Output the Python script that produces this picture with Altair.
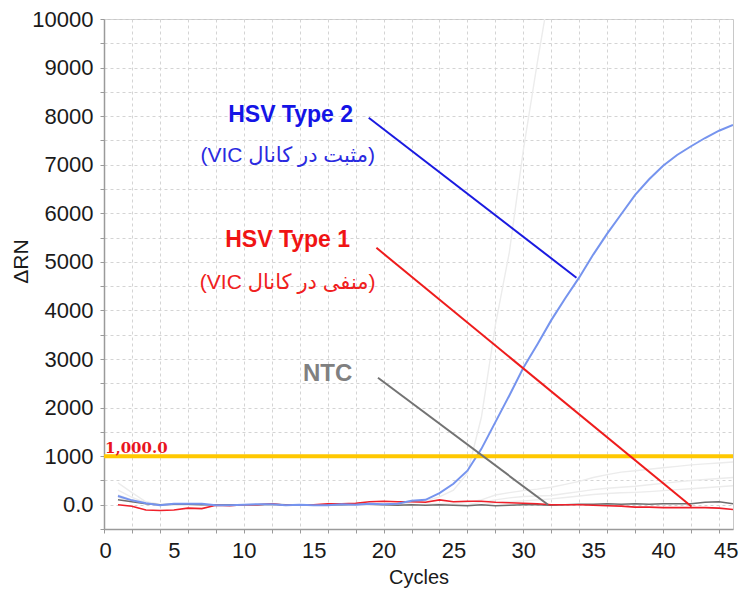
import altair as alt
import pandas as pd

# ---------------- data ----------------
cycles = list(range(1, 46))

hsv2_blue = [180, 90, 30, -10, 20, 20, 20, -10, -10, 0,
             10, 10, -10, 0, -10, -10, 10, 0, 20, 10,
             20, 80, 100, 240, 430, 700, 1150, 1700, 2250, 2820,
             3300, 3800, 4250, 4680, 5150, 5580, 5980, 6380, 6700, 6980,
             7200, 7380, 7550, 7700, 7820]

hsv1_red = [0, -30, -110, -120, -110, -70, -80, -10, -20, 0,
            0, 20, -10, 0, 0, 20, 20, 30, 60, 70,
            60, 60, 50, 100, 60, 70, 70, 50, 40, 30,
            20, 0, 0, 0, -10, -20, -30, -50, -50, -60,
            -60, -60, -60, -70, -100]

ntc_gray = [100, 60, 20, 0, 10, 10, 0, 0, 0, 0,
            0, 10, 0, 0, -10, 0, 0, 10, 10, 0,
            -10, 0, -10, 0, -10, -20, 0, -20, -10, 0,
            0, -10, 0, 10, 10, 20, 10, 20, 10, 20,
            20, 20, 50, 60, 20]

bg_steep = [450, 250, 60, 10, 0, 0, 0, 0, 0, 0,
            0, 0, 0, 0, 0, 0, 0, 0, 0, 10,
            20, 40, 80, 160, 300, 650, 1800, 3700, 5200, 7300,
            9100, 10800]
bg_a = [300, 150, 40, 0, 0, 0, 0, 0, 0, 0,
        0, 0, 0, 0, 0, 0, 0, 0, 0, 0,
        0, 0, 10, 20, 30, 50, 100, 200, 250, 290,
        320, 360, 420, 480, 560, 620, 670, 700, 730, 760,
        790, 820, 840, 860, 880]
bg_b = [200, 100, 30] + [0] * 23 + [50, 100, 140, 170, 180, 190, 230, 270, 310, 340,
                                    360, 380, 410, 440, 470, 500, 520, 540, 560]
bg_c = [150, 80, 20] + [0] * 24 + [40, 60, 80, 100, 120, 150, 180, 210, 230, 245,
                                   255, 270, 290, 310, 330, 350, 370, 390]

x_ticks = sorted(set(range(0, 46, 2)) | set(range(0, 46, 5)))
y_ticks = list(range(-500, 10001, 500))
threshold = [1000]
threshold_label = ["1,000.0"]

note_text = ["HSV Type 2", "HSV Type 1", "NTC"]
note_x = [13.35, 13.14, 16.0]
note_y = [8027, 5451, 2681]
note_size = [23, 23, 24]
note_color = ["#1414e6", "#f01414", "#808080"]

sub_text = ["(VIC مثبت در کانال)", "(VIC منفی در کانال)"]
sub_x = [13.14, 13.14]
sub_y = [7188, 4574]
sub_color = ["#2a2ae0", "#f02020"]

lead_x = [18.94, 19.49, 19.60]
lead_y = [7966, 5289, 2614]
lead_x2 = [33.80, 42.03, 31.77]
lead_y2 = [4674, -37, -2]
lead_color = ["#1a1ae0", "#ee1c1c", "#737373"]

# ---------------- tables ----------------
bg_rows = []
for name, vals in [("s", bg_steep), ("a", bg_a), ("b", bg_b), ("c", bg_c)]:
    for c, v in zip(cycles, vals):
        bg_rows.append({"cycle": c, "value": v, "series": name})
bg_df = pd.DataFrame(bg_rows)

blue_df = pd.DataFrame({"cycle": cycles, "value": hsv2_blue})
red_df = pd.DataFrame({"cycle": cycles, "value": hsv1_red})
ntc_df = pd.DataFrame({"cycle": cycles, "value": ntc_gray})
thr_df = pd.DataFrame({"cycle": [0], "value": threshold, "label": threshold_label})
note_df = pd.DataFrame({"cycle": note_x, "value": note_y, "t": note_text,
                        "c": note_color, "fs": note_size})
sub_df = pd.DataFrame({"cycle": sub_x, "value": sub_y, "t": sub_text, "c": sub_color})
lead_df = pd.DataFrame({"cycle": lead_x, "value": lead_y, "x2": lead_x2,
                        "y2": lead_y2, "c": lead_color})

# ---------------- scales / axes ----------------
xs = alt.Scale(domain=[0, 45], nice=False, zero=False)
ys = alt.Scale(domain=[-500, 10000], nice=False, zero=False)

even_only = {"condition": {"test": "datum.value % 2 == 0", "value": 1}, "value": 0}

x_axis = alt.Axis(
    values=x_ticks, title="Cycles",
    labelExpr="datum.value % 5 == 0 ? datum.label : ''",
    tickOpacity=even_only, gridOpacity=even_only,
    grid=True, gridDash=[3, 3], gridColor="#d4d4d4", gridWidth=1,
    domainColor="#9a9a9a", domainWidth=1.5, tickColor="#9a9a9a", tickSize=4,
    labelFont="Liberation Sans", labelFontSize=22, labelColor="#1a1a1a",
    labelPadding=7, labelFlush=True, labelFlushOffset=5, labelOverlap=False,
    titleFont="Liberation Sans", titleFontSize=20, titleFontWeight="normal",
    titleColor="#1a1a1a", titlePadding=6,
)
y_axis = alt.Axis(
    values=y_ticks, format="d", title="ΔRN",
    labelExpr="datum.value == 0 ? '0.0' : (datum.value > 0 && datum.value % 1000 == 0 ? datum.label : '')",
    grid=True, gridDash=[3, 3], gridColor="#d4d4d4", gridWidth=1,
    domainColor="#9a9a9a", domainWidth=1.5, tickColor="#9a9a9a", tickSize=4,
    labelFont="Liberation Sans", labelFontSize=22, labelColor="#1a1a1a",
    labelPadding=7, labelFlush=False, labelOverlap=False,
    titleFont="Liberation Sans", titleFontSize=21, titleFontWeight="normal",
    titleColor="#1a1a1a", titleX=-77, titleY=242, titleBaseline="alphabetic",
)

X = alt.X("cycle:Q", scale=xs, axis=x_axis)
Y = alt.Y("value:Q", scale=ys, axis=y_axis)

# ---------------- layers ----------------
bg = alt.Chart(bg_df).mark_line(color="#ececec", strokeWidth=1.4, clip=True).encode(
    x=X, y=Y, detail="series:N",
)

def curve(df, color, width):
    return alt.Chart(df).mark_line(color=color, strokeWidth=width, clip=True).encode(x=X, y=Y)

ntc_line = curve(ntc_df, "#6e6e6e", 1.5)
red_line = curve(red_df, "#f0202a", 1.6)
blue_line = curve(blue_df, "#7694ee", 2)

thr_rule = alt.Chart(thr_df).mark_rule(color="#ffc800", strokeWidth=4).encode(y=Y)
thr_text = alt.Chart(thr_df).mark_text(
    align="left", baseline="alphabetic", dx=1, dy=-3,
    font="DejaVu Serif", fontWeight="bold", fontSize=15, color="#e8141e",
).encode(x=X, y=Y, text="label:N")

leaders = alt.Chart(lead_df).mark_rule(strokeWidth=2).encode(
    x=X, y=Y, x2="x2:Q", y2="y2:Q",
    color=alt.Color("c:N", scale=None),
)

notes = alt.Chart(note_df).mark_text(
    align="center", baseline="middle", font="Liberation Sans", fontWeight="bold",
).encode(
    x=X, y=Y, text="t:N",
    color=alt.Color("c:N", scale=None),
    size=alt.Size("fs:Q", scale=None),
)

subs = alt.Chart(sub_df).mark_text(
    align="center", baseline="middle", font="Liberation Sans, DejaVu Sans",
    fontSize=21,
).encode(
    x=X, y=Y, text="t:N",
    color=alt.Color("c:N", scale=None),
)

chart = alt.layer(
    bg, ntc_line, red_line, blue_line, thr_rule, thr_text, leaders, notes, subs
).properties(
    width=629, height=510,
    autosize=alt.AutoSizeParams(type="none"),
    padding={"left": 96, "top": 11, "right": 6, "bottom": 61},
    background="white",
).configure_view(stroke="#c8c8c8", strokeWidth=1)

chart.save("out.html", embed_options={"renderer": "svg", "actions": False})
